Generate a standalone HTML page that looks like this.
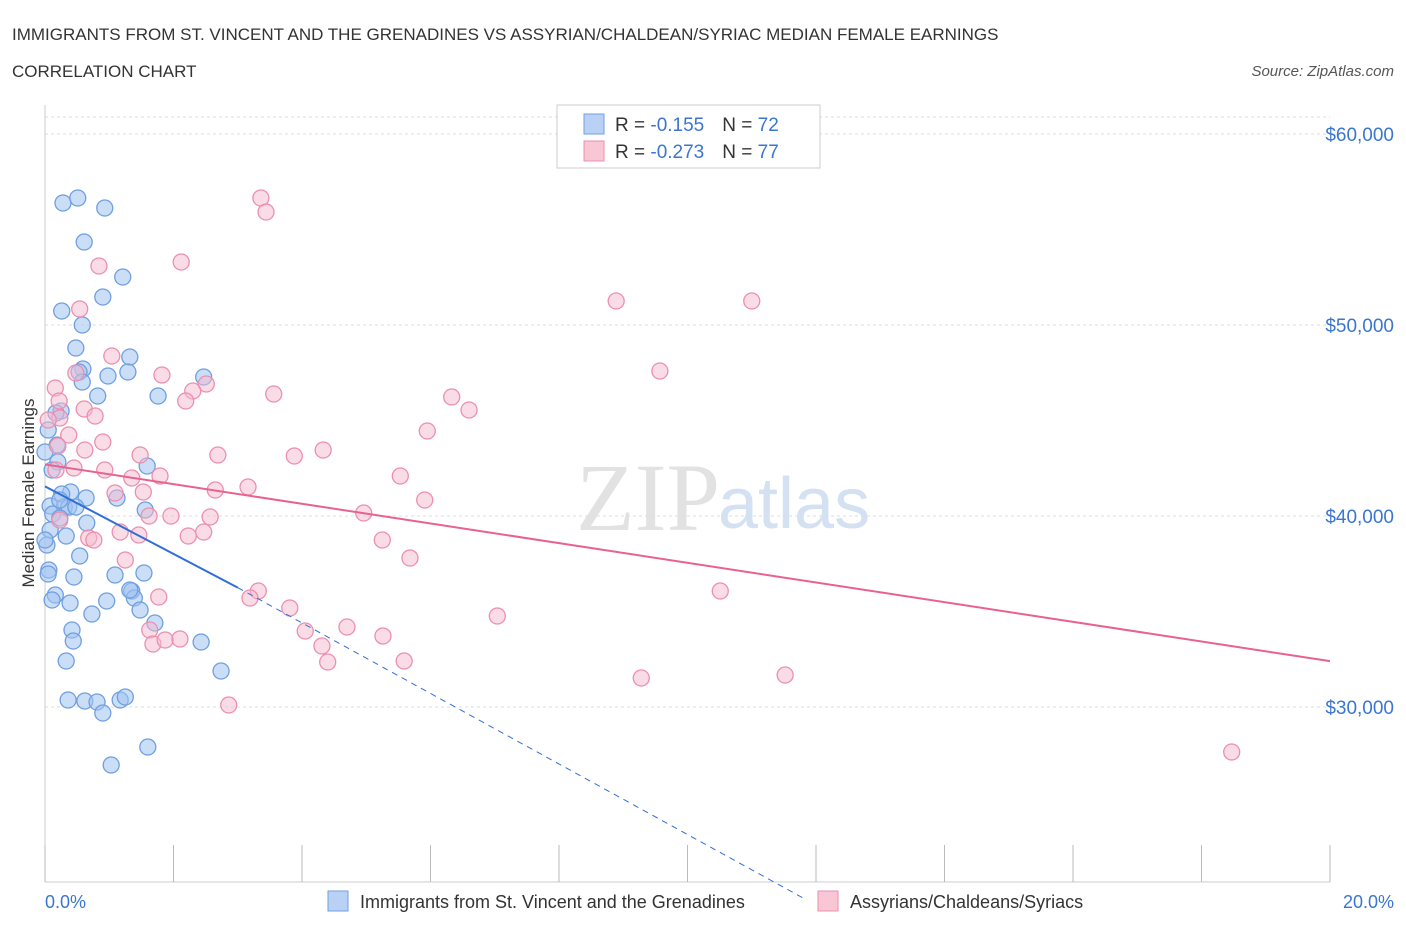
<!DOCTYPE html>
<html><head><meta charset="utf-8"><style>
body{margin:0;background:#fff;font-family:"Liberation Sans",sans-serif}
</style></head><body>
<svg width="1406" height="930" viewBox="0 0 1406 930">
<text x="12" y="40" font-size="17" fill="#333">IMMIGRANTS FROM ST. VINCENT AND THE GRENADINES VS ASSYRIAN/CHALDEAN/SYRIAC MEDIAN FEMALE EARNINGS</text>
<text x="12" y="77" font-size="17" fill="#333">CORRELATION CHART</text>
<text x="1394" y="76" font-size="15" fill="#555" font-style="italic" text-anchor="end">Source: ZipAtlas.com</text>
<text x="720" y="530" font-size="96" fill="#e2e2e2" text-anchor="end" font-family="Liberation Serif">ZIP</text>
<text x="718" y="528" font-size="72" fill="#d3e1f3">atlas</text>
<g id="grid"></g>
<line x1="45" y1="105" x2="45" y2="882" stroke="#ccc"/>
<line x1="45" y1="882" x2="1330" y2="882" stroke="#ccc"/>
<g id="ticks"></g>
<text x="45" y="908" font-size="18" fill="#3a76d0">0.0%</text>
<text x="1394" y="908" font-size="18" fill="#3a76d0" text-anchor="end">20.0%</text>
<text transform="translate(34,493) rotate(-90)" font-size="17" fill="#333" text-anchor="middle">Median Female Earnings</text>
<g id="pts"></g>
<g id="lines"></g>
<g>
<rect x="557" y="105" width="263" height="63" fill="#fff" stroke="#ccc"/>
<rect x="584" y="114" width="20" height="20" fill="#b8d1f4" stroke="#6f9fe0"/>
<text x="615" y="131" font-size="19" fill="#333">R = <tspan fill="#3a76d0">-0.155</tspan><tspan dx="18">N = </tspan><tspan fill="#3a76d0">72</tspan></text>
<rect x="584" y="141" width="20" height="20" fill="#f8c6d4" stroke="#ec8fae"/>
<text x="615" y="158" font-size="19" fill="#333">R = <tspan fill="#3a76d0">-0.273</tspan><tspan dx="18">N = </tspan><tspan fill="#3a76d0">77</tspan></text>
</g>
<g>
<rect x="328" y="891" width="20" height="20" fill="#b8d1f4" stroke="#6f9fe0"/>
<text x="360" y="908" font-size="18" fill="#333">Immigrants from St. Vincent and the Grenadines</text>
<rect x="818" y="891" width="20" height="20" fill="#f8c6d4" stroke="#ec8fae"/>
<text x="850" y="908" font-size="18" fill="#333">Assyrians/Chaldeans/Syriacs</text>
</g>
</svg>
<script>
const yTicks=[60000,50000,40000,30000];
const yTickLabels=["$60,000","$50,000","$40,000","$30,000"];
const xTicks=[0,2,4,6,8,10,12,14,16,18,20];
const bluePx=[[63,203],[78,198],[105,208],[84,242],[123,277],[103,297],[62,311],[82,325],[76,348],[130,357],[83,369],[79,372],[108,376],[128,372],[204,377],[82,382],[98,396],[158,396],[61,411],[56,413],[48,430],[57,445],[58,462],[147,466],[71,492],[62,494],[86,498],[117,498],[50,506],[64,507],[69,507],[76,507],[53,514],[60,518],[145,510],[87,523],[50,530],[66,536],[47,545],[80,556],[49,570],[48,574],[74,577],[115,575],[144,573],[55,595],[132,591],[107,601],[134,598],[70,603],[140,610],[92,614],[155,623],[72,630],[73,641],[201,642],[66,661],[221,671],[68,700],[85,701],[97,702],[120,700],[125,697],[103,713],[148,747],[111,765],[52,600],[45,540],[45,452],[52,470],[60,500],[130,590]];
const pinkPx=[[261,198],[266,212],[99,266],[181,262],[80,309],[616,301],[752,301],[112,356],[660,371],[76,373],[162,375],[206,384],[193,391],[274,394],[55,388],[186,401],[59,401],[452,397],[469,410],[84,409],[95,416],[427,431],[60,418],[69,435],[103,442],[58,446],[218,455],[140,455],[294,456],[323,450],[74,468],[105,470],[160,476],[132,478],[400,476],[248,487],[215,490],[115,493],[143,492],[425,500],[364,513],[149,516],[171,516],[210,517],[120,532],[139,535],[188,536],[204,532],[89,538],[94,540],[382,540],[410,558],[125,560],[720,591],[258,591],[250,598],[159,597],[290,608],[497,616],[150,630],[347,627],[305,631],[383,636],[153,644],[165,640],[180,639],[322,646],[328,662],[404,661],[641,678],[785,675],[229,705],[1232,752],[56,470],[60,520],[85,450],[48,420]];
// data in (percent, dollars)
const toData=p=>[+((p[0]-45)/64.25).toFixed(2),Math.round(60000-(p[1]-134)/191*10000)];
const blueX=bluePx.map(p=>toData(p)[0]), blueY=bluePx.map(p=>toData(p)[1]);
const pinkX=pinkPx.map(p=>toData(p)[0]), pinkY=pinkPx.map(p=>toData(p)[1]);
const blueTrend=[[0,41550],[3,36250],[11.8,20000]];
const pinkTrend=[[0,42700],[20,32400]];
const X=v=>45+v*64.25, Y=v=>134+(60000-v)/10000*191;
const NS="http://www.w3.org/2000/svg";
const mk=(t,a,parent)=>{const e=document.createElementNS(NS,t);for(const k in a)e.setAttribute(k,a[k]);document.getElementById(parent).appendChild(e);return e;};
yTicks.forEach((v,i)=>{
 const l=mk('line',{x1:45,x2:1330,y1:Y(v),y2:Y(v),stroke:'#ddd','stroke-dasharray':'3,3'},'grid');
 
 
 const t=mk('text',{x:1394,y:Y(v)+7,'font-size':19,fill:'#3a76d0','text-anchor':'end'},'grid');
 t.textContent=yTickLabels[i];
 
 
});
mk('line',{x1:45,x2:1330,y1:117,y2:117,stroke:'#ddd','stroke-dasharray':'3,3'},'grid');
xTicks.forEach(v=>{
 const l=mk('line',{x1:X(v),x2:X(v),y1:845,y2:882,stroke:'#bbb'},'ticks');
 
 
});
blueX.forEach((x,i)=>{
 const c=mk('circle',{cx:X(x),cy:Y(blueY[i]),r:8,fill:'rgba(160,195,240,0.55)',stroke:'#6f9fe0','stroke-width':1.3},'pts');
 
 
});
pinkX.forEach((x,i)=>{
 const c=mk('circle',{cx:X(x),cy:Y(pinkY[i]),r:8,fill:'rgba(245,185,205,0.5)',stroke:'#ec8fae','stroke-width':1.3},'pts');
 
 
});
let b1=mk('line',{x1:X(blueTrend[0][0]),y1:Y(blueTrend[0][1]),x2:X(blueTrend[1][0]),y2:Y(blueTrend[1][1]),stroke:'#2f6fd6','stroke-width':2},'lines');


let b2=mk('line',{x1:X(blueTrend[1][0]),y1:Y(blueTrend[1][1]),x2:X(blueTrend[2][0]),y2:Y(blueTrend[2][1]),stroke:'#2f6fd6','stroke-width':1,'stroke-dasharray':'6,5'},'lines');


let p1=mk('line',{x1:X(pinkTrend[0][0]),y1:Y(pinkTrend[0][1]),x2:X(pinkTrend[1][0]),y2:Y(pinkTrend[1][1]),stroke:'#e8628f','stroke-width':2},'lines');


</script>
</body></html>
